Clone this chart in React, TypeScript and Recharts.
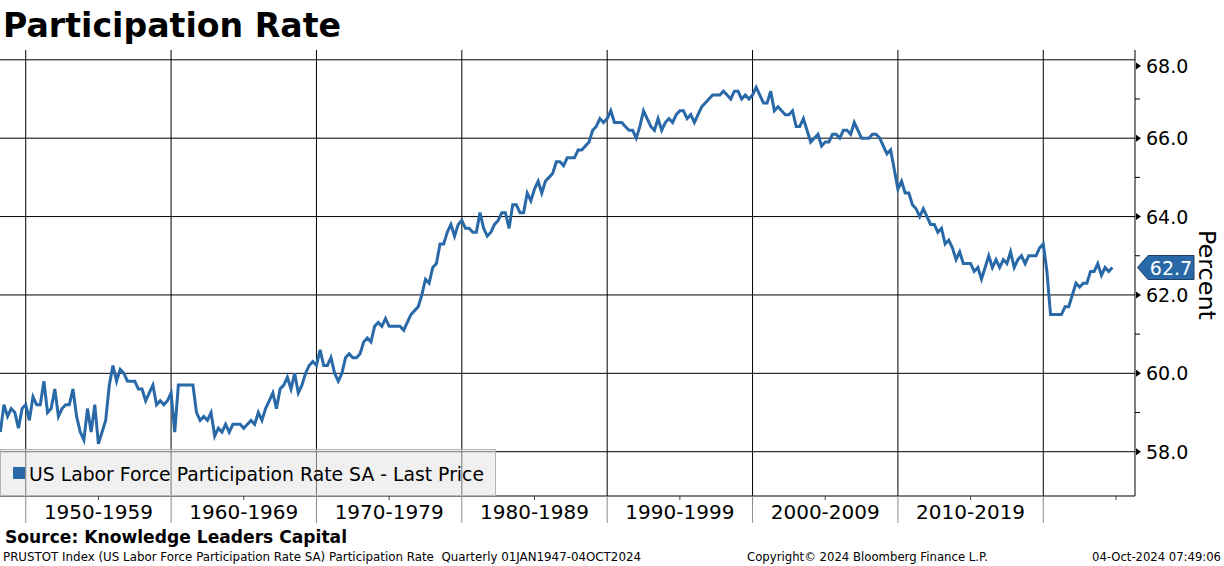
import React from "react";
import { LineChart, Line, XAxis, YAxis, CartesianGrid, ReferenceLine } from "recharts";

// --- Data ---

// US labor force participation rate SA, one value per quarter end, from 1948Q1 to 04-Oct-2024
const firstQuarterEnd = 1948.25;
const participationRate = [
  58.5, 59.2, 58.9, 59.1, 59.0, 58.6, 59.1, 59.2, 58.8, 59.4,
  59.2, 59.2, 59.8, 59.0, 59.1, 59.6, 58.9, 59.1, 59.2, 59.2,
  59.6, 58.9, 58.5, 58.3, 59.1, 58.5, 59.2, 58.2, 58.5, 58.8,
  59.7, 60.2, 59.8, 60.1, 60.0, 59.8, 59.8, 59.8, 59.6, 59.6,
  59.3, 59.5, 59.7, 59.2, 59.3, 59.2, 59.3, 59.5, 58.5, 59.7,
  59.7, 59.7, 59.7, 59.7, 59.0, 58.8, 58.9, 58.8, 59.0, 58.4,
  58.6, 58.5, 58.7, 58.5, 58.7, 58.7, 58.7, 58.6, 58.7, 58.8,
  58.7, 59.0, 58.8, 59.1, 59.3, 59.5, 59.1, 59.6, 59.7, 59.9,
  59.6, 60.0, 59.5, 59.7, 60.0, 60.2, 60.3, 60.2, 60.6, 60.2,
  60.2, 60.4, 60.0, 59.8, 60.0, 60.4, 60.5, 60.4, 60.4, 60.5,
  60.8, 60.9, 60.8, 61.2, 61.3, 61.2, 61.4, 61.2, 61.2, 61.2,
  61.2, 61.1, 61.3, 61.5, 61.6, 61.7, 62.0, 62.4, 62.3, 62.7,
  62.8, 63.3, 63.3, 63.6, 63.8, 63.5, 63.8, 63.9, 63.7, 63.7,
  63.6, 63.6, 64.1, 63.7, 63.5, 63.6, 63.8, 63.9, 64.1, 64.1,
  63.7, 64.3, 64.3, 64.1, 64.1, 64.6, 64.4, 64.7, 64.9, 64.6,
  64.9, 65.0, 65.1, 65.4, 65.4, 65.3, 65.5, 65.5, 65.5, 65.7,
  65.7, 65.8, 65.9, 66.2, 66.3, 66.5, 66.4, 66.5, 66.7, 66.4,
  66.4, 66.4, 66.3, 66.2, 66.2, 66.0, 66.3, 66.7, 66.5, 66.3,
  66.2, 66.5, 66.2, 66.4, 66.5, 66.4, 66.6, 66.7, 66.7, 66.5,
  66.6, 66.4, 66.6, 66.8, 66.9, 67.0, 67.1, 67.1, 67.1, 67.2,
  67.1, 67.0, 67.2, 67.2, 67.0, 67.1, 67.0, 67.1, 67.3, 67.1,
  66.9, 66.9, 67.2, 66.7, 66.8, 66.7, 66.6, 66.6, 66.7, 66.3,
  66.3, 66.5, 66.2, 65.9, 66.0, 66.1, 65.8, 65.9, 65.9, 66.1,
  66.1, 66.0, 66.2, 66.2, 66.1, 66.4, 66.2, 66.0, 66.0, 66.0,
  66.1, 66.1, 66.0, 65.8, 65.6, 65.7, 65.2, 64.7, 64.9, 64.6,
  64.6, 64.3, 64.2, 64.0, 64.2, 64.0, 63.8, 63.8, 63.6, 63.7,
  63.3, 63.4, 63.2, 62.9, 63.1, 62.8, 62.8, 62.8, 62.6, 62.7,
  62.4, 62.7, 63.0, 62.7, 62.9, 62.7, 62.9, 62.8, 63.1, 62.7,
  62.9, 63.0, 62.8, 63.0, 63.0, 63.0, 63.2, 63.3, 62.6, 61.5,
  61.5, 61.5, 61.5, 61.7, 61.7, 62.0, 62.3, 62.2, 62.3, 62.3,
  62.6, 62.6, 62.8, 62.5, 62.7, 62.6, 62.7,
];

const decadeStarts = [1950, 1960, 1970, 1980, 1990, 2000, 2010, 2020];
const midDecades = [1955, 1965, 1975, 1985, 1995, 2005, 2015, 2025];
const majorYTicks = [58, 60, 62, 64, 66, 68];
const minorYTicks = [59, 61, 63, 65, 67];
const lastPrice = 62.7;

const data = participationRate.map((rate, i) => ({ t: firstQuarterEnd + i * 0.25, rate }));

// --- Components ---

const W = 1224;
const H = 566;
const FONT = "'DejaVu Sans', Verdana, sans-serif";
const BLUE = "#2a69a8";

function DecadeTick({ x, y, payload }: any) {
  const v = payload.value;
  if (v % 10 === 0) {
    return <line x1={x} x2={x} y1={y} y2={y + 27} stroke="#8c8c8c" />;
  }
  return (
    <g>
      <line x1={x} x2={x} y1={y} y2={y + 4} stroke="#444" />
      {v < 2020 && (
        <text x={x} y={y + 23} textAnchor="middle" fontFamily={FONT} fontSize={20} fill="#000">
          {`${v - 5}-${v + 4}`}
        </text>
      )}
    </g>
  );
}

function PercentTick({ x, y, payload }: any) {
  const v = payload.value;
  if (v % 2 !== 0) {
    return <line x1={x} x2={x + 5} y1={y} y2={y} stroke="#000" />;
  }
  // the top label is pushed down a little so it stays inside the axis box
  const ly = Math.max(y, 66);
  return (
    <g>
      <polygon points={`${x + 1},${ly - 3.5} ${x + 6},${ly} ${x + 1},${ly + 3.5}`} fill="#000" />
      <text x={x + 11} y={ly + 7} fontFamily={FONT} fontSize={19} fill="#000">
        {v.toFixed(1)}
      </text>
    </g>
  );
}

function priceTag(props: any) {
  const vb = props.viewBox || {};
  const x = (vb.x || 0) + (vb.width || 0);
  const y = vb.y || 0;
  return (
    <g>
      <polygon
        points={`${x + 2.5},${y} ${x + 13},${y - 12} ${x + 59},${y - 12} ${x + 59},${y + 12} ${x + 13},${y + 12}`}
        fill={BLUE}
        stroke="#1c3f66"
      />
      <text x={x + 36} y={y + 7} textAnchor="middle" fontFamily={FONT} fontSize={19} fill="#fff">
        {lastPrice.toFixed(1)}
      </text>
    </g>
  );
}

export default function App() {
  return (
    <div style={{ position: "absolute", left: 0, top: 0, width: W, height: H, background: "#fff" }}>
      <LineChart width={W} height={H} data={data} margin={{ top: 50, right: 0, bottom: 0, left: 0 }}>
        <CartesianGrid stroke="#000" horizontalValues={majorYTicks} verticalValues={decadeStarts} />
        <XAxis
          type="number"
          dataKey="t"
          domain={[1948.23, 2026.31]}
          allowDataOverflow
          ticks={[...decadeStarts, ...midDecades].sort((a, b) => a - b)}
          interval={0}
          height={70}
          tickSize={0}
          tickMargin={0}
          tickLine={false}
          axisLine={{ stroke: "#000" }}
          tick={<DecadeTick />}
        />
        <YAxis
          orientation="right"
          domain={[56.87, 68.25]}
          allowDataOverflow
          ticks={[...majorYTicks, ...minorYTicks].sort((a, b) => a - b)}
          interval={0}
          width={89}
          tickSize={0}
          tickMargin={0}
          tickLine={false}
          axisLine={{ stroke: "#000" }}
          tick={<PercentTick />}
        />
        <ReferenceLine y={lastPrice} stroke="none" label={priceTag} />
        <Line
          dataKey="rate"
          type="linear"
          stroke={BLUE}
          strokeWidth={3}
          dot={false}
          isAnimationActive={false}
        />
      </LineChart>
      <svg
        width={W}
        height={H}
        style={{ position: "absolute", left: 0, top: 0, pointerEvents: "none" }}
      >
        <text x={3} y={37} fontFamily={FONT} fontWeight="bold" fontSize={34} textLength={338} lengthAdjust="spacingAndGlyphs">
          Participation Rate
        </text>
        <rect x={0.5} y={449.5} width={495} height={46} fill="#e3e3e3" fillOpacity={0.53} stroke="#b4b4b4" />
        <rect x={13} y={467} width={12} height={12} fill={BLUE} />
        <text x={29} y={481} fontFamily={FONT} fontSize={19} textLength={455} lengthAdjust="spacingAndGlyphs">
          US Labor Force Participation Rate SA - Last Price
        </text>
        <text
          x={1199}
          y={275}
          transform="rotate(90 1199 275)"
          textAnchor="middle"
          fontFamily={FONT}
          fontSize={23}
          textLength={90}
          lengthAdjust="spacingAndGlyphs"
        >
          Percent
        </text>
        <text x={5} y={543} fontFamily={FONT} fontWeight="bold" fontSize={17} textLength={342} lengthAdjust="spacingAndGlyphs">
          Source: Knowledge Leaders Capital
        </text>
        <text x={3} y={561} fontFamily={FONT} fontSize={12} textLength={638} lengthAdjust="spacingAndGlyphs">
          {"PRUSTOT Index (US Labor Force Participation Rate SA) Participation Rate\u00a0 Quarterly 01JAN1947-04OCT2024"}
        </text>
        <text x={747} y={561} fontFamily={FONT} fontSize={12} textLength={241} lengthAdjust="spacingAndGlyphs">
          Copyright© 2024 Bloomberg Finance L.P.
        </text>
        <text x={1092} y={561} fontFamily={FONT} fontSize={12} textLength={129} lengthAdjust="spacingAndGlyphs">
          04-Oct-2024 07:49:06
        </text>
      </svg>
    </div>
  );
}
